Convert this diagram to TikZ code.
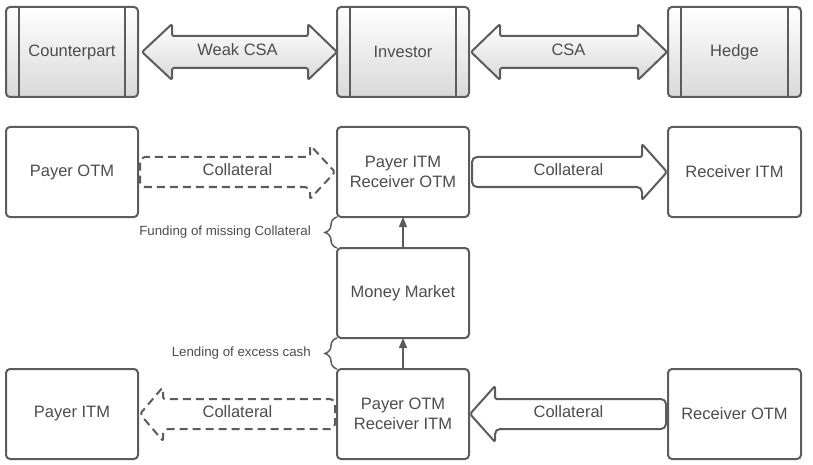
\documentclass[tikz,border=0pt]{standalone}
\usepackage{fontspec}
\setmainfont{Liberation Sans}
\usetikzlibrary{arrows.meta,calc,decorations.pathreplacing}
\definecolor{ln}{RGB}{92,92,92}
\definecolor{tx}{RGB}{77,77,77}
\begin{document}
\begin{tikzpicture}[x=1pt,y=-1pt,
  box/.style={draw=ln,line width=2pt,rounded corners=4pt,minimum width=132pt,minimum height=90pt,
    outer sep=0pt,inner sep=0pt,align=center,text=tx,font=\fontsize{16.5}{20}\selectfont,fill=white},
  gbox/.style={box,top color=white,bottom color=black!15},
  garrow/.style={draw=ln,line width=2pt,line join=round,rounded corners=2pt,top color=white,bottom color=black!15},
  warrow/.style={draw=ln,line width=2pt,line join=round,rounded corners=2pt,fill=white},
  darrow/.style={warrow,dash pattern=on 8pt off 5pt},
  alabel/.style={text=tx,font=\fontsize{16.5}{20}\selectfont,inner sep=0pt},
  slabel/.style={text=tx,font=\fontsize{13.3}{16}\selectfont,inner sep=0pt,anchor=east},
  conn/.style={draw=ln,line width=1.3pt,-{Triangle[length=10pt,width=8pt]}},
  bracestyle/.style={draw=ln,line width=1.5pt,decorate,decoration={brace,amplitude=12pt}}
]
\useasboundingbox (0,0) rectangle (813,465);

% boxes
\node[gbox] (cp) at (72,52) {Counterpart};
\node[gbox] (inv) at (403,52) {Investor};
\node[gbox,minimum width=133pt] (hdg) at (734.5,52) {Hedge};
\foreach \n in {cp,inv,hdg}{
  \draw[ln,line width=2pt] ([xshift=13pt]\n.north west) -- ([xshift=13pt]\n.south west);
  \draw[ln,line width=2pt] ([xshift=-13pt]\n.north east) -- ([xshift=-13pt]\n.south east);
}
\node[box] (pom) at (72,172) {Payer OTM};
\node[box] (pit) at (403,172) {Payer ITM\\Receiver OTM};
\node[box,minimum width=133pt] (rit) at (734.5,172) {Receiver ITM};
\node[box] (mm) at (403,293) {Money Market};
\node[box] (pitm) at (72,414) {Payer ITM};
\node[box] (pot) at (403,414) {Payer OTM\\Receiver ITM};
\node[box,minimum width=133pt] (rotm) at (734.5,414) {Receiver OTM};

% top double arrows
\path[garrow] let \p1=(cp.east), \p2=(inv.west) in
  (\x1+4pt,\y1) -- (\x1+34pt,\y1-28pt) -- (\x1+34pt,\y1-16pt) -- (\x2-29pt,\y1-16pt) -- (\x2-29pt,\y1-28pt)
  -- (\x2,\y1) -- (\x2-29pt,\y1+28pt) -- (\x2-29pt,\y1+16pt) -- (\x1+34pt,\y1+16pt) -- (\x1+34pt,\y1+28pt) -- cycle;
\path[garrow] let \p1=(inv.east), \p2=(hdg.west) in
  (\x1+2pt,\y1) -- (\x1+31pt,\y1-28pt) -- (\x1+31pt,\y1-16pt) -- (\x2-30pt,\y1-16pt) -- (\x2-30pt,\y1-28pt)
  -- (\x2-1pt,\y1) -- (\x2-30pt,\y1+28pt) -- (\x2-30pt,\y1+16pt) -- (\x1+31pt,\y1+16pt) -- (\x1+31pt,\y1+28pt) -- cycle;
\node[alabel] (lwcsa) at ($(cp.east)!0.5!(inv.west)+(0,-2)$) {Weak CSA};
\node[alabel] (lcsa) at ($(inv.east)!0.5!(hdg.west)+(0,-2)$) {CSA};

% middle row arrows
\path[darrow] let \p1=(pom.east), \p2=(pit.west) in
  (\x2-27pt,\y1-15pt) -- (\x2-27pt,\y1-27pt) -- (\x2-2pt,\y1) -- (\x2-27pt,\y1+27pt) -- (\x2-27pt,\y1+15pt)
  [rounded corners=5pt] -- (\x1+2pt,\y1+15pt) -- (\x1+2pt,\y1-15pt) -- cycle;
\path[warrow] let \p1=(pit.east), \p2=(rit.west) in
  (\x2-26pt,\y1-15pt) -- (\x2-26pt,\y1-28pt) -- (\x2-1pt,\y1) -- (\x2-26pt,\y1+28pt) -- (\x2-26pt,\y1+15pt)
  [rounded corners=5pt] -- (\x1+3pt,\y1+15pt) -- (\x1+3pt,\y1-15pt) -- cycle;
\node[alabel] (lc1) at ($(pom.east)!0.5!(pit.west)+(0,-2)$) {Collateral};
\node[alabel] (lc2) at ($(pit.east)!0.5!(rit.west)+(0,-2)$) {Collateral};

% bottom row arrows
\path[darrow] let \p1=(pitm.east), \p2=(pot.west) in
  (\x1+25pt,\y1-15pt) -- (\x1+25pt,\y1-27pt) -- (\x1+2pt,\y1) -- (\x1+25pt,\y1+27pt) -- (\x1+25pt,\y1+15pt)
  [rounded corners=5pt] -- (\x2-2pt,\y1+15pt) -- (\x2-2pt,\y1-15pt) -- cycle;
\path[warrow] let \p1=(pot.east), \p2=(rotm.west) in
  (\x1+26pt,\y1-15pt) -- (\x1+26pt,\y1-28pt) -- (\x1+1pt,\y1) -- (\x1+26pt,\y1+28pt) -- (\x1+26pt,\y1+15pt)
  [rounded corners=5pt] -- (\x2-2pt,\y1+15pt) -- (\x2-2pt,\y1-15pt) -- cycle;
\node[alabel] (lc3) at ($(pitm.east)!0.5!(pot.west)+(0,-2)$) {Collateral};
\node[alabel] (lc4) at ($(pot.east)!0.5!(rotm.west)+(0,-2)$) {Collateral};

% vertical connectors
\draw[conn] (mm.north) -- (pit.south);
\draw[conn] (pot.north) -- (mm.south);

% braces and labels
\draw[bracestyle] (mm.north west) -- (pit.south west);
\draw[bracestyle] (pot.north west) -- (mm.south west);
\node[slabel] (lfund) at (311,232) {Funding of missing Collateral};
\node[slabel] (llend) at (311,353) {Lending of excess cash};
\end{tikzpicture}
\end{document}
